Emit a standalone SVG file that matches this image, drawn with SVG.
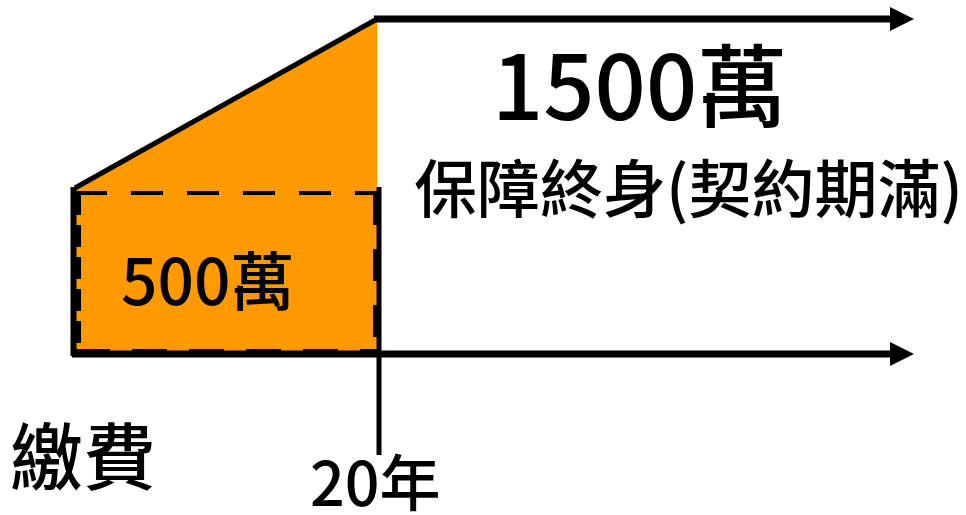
<svg xmlns="http://www.w3.org/2000/svg" width="966" height="515" viewBox="0 0 966 515">
<style>
.t{font-family:"Noto Sans CJK TC","Noto Sans CJK SC",sans-serif;fill:#000;font-weight:500}
.ln{stroke:#000;fill:none}
.dash{stroke:#000;fill:none;stroke-dasharray:32 24}
</style>
<defs>
<marker id="ah" markerUnits="userSpaceOnUse" markerWidth="24" markerHeight="24" refX="0" refY="12" orient="auto" viewBox="0 0 24 24">
<path d="M0,0 L24,12 L0,24 Z" fill="#000"/>
</marker>
</defs>
<g id="area">
<polygon points="75,188 377,18 377,354 75,354" fill="#FF9900"/>
</g>
<g id="connectors">
<line class="ln" x1="75" y1="188" x2="377" y2="19" stroke-width="5"/>
<line class="ln" x1="374" y1="19" x2="890" y2="19" stroke-width="7" marker-end="url(#ah)"/>
<line class="ln" x1="73.5" y1="187" x2="73.5" y2="356" stroke-width="6"/>
<line class="ln" x1="379" y1="187" x2="379" y2="455" stroke-width="5"/>
<line class="ln" x1="72" y1="354" x2="890" y2="354" stroke-width="7" marker-end="url(#ah)"/>
</g>
<g id="base-box">
<line class="dash" x1="75" y1="193" x2="378" y2="193" stroke-width="4"/>
<line class="dash" x1="77" y1="193" x2="77" y2="353" stroke-width="8" style="stroke-dasharray:22 10"/>
<line class="dash" x1="377" y1="193" x2="377" y2="353" stroke-width="8" style="stroke-dasharray:32 24"/>
<line class="dash" x1="75" y1="353" x2="378" y2="353" stroke-width="8" style="stroke-dasharray:35 22"/>
</g>
<g id="labels">
<text class="t" x="492" y="120" font-size="90">1500萬</text>
<text class="t" x="414" y="212" font-size="63">保障終身(契約期滿)</text>
<text class="t" x="121" y="305" font-size="64">500萬</text>
<text class="t" x="10" y="484" font-size="73">繳費</text>
<text class="t" x="310" y="506" font-size="61">20年</text>
</g>
</svg>
